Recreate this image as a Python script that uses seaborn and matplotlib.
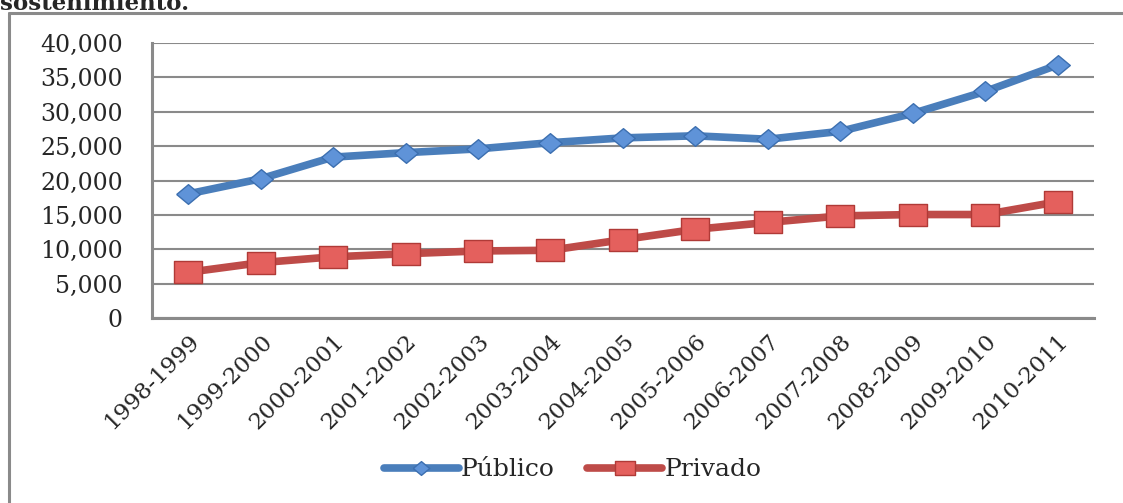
import pandas as pd
import numpy as np
import matplotlib
matplotlib.use('Agg')
import matplotlib.pyplot as plt
from matplotlib.lines import Line2D
import seaborn as sns

# datos
periodos = ['1998-1999', '1999-2000', '2000-2001', '2001-2002', '2002-2003',
            '2003-2004', '2004-2005', '2005-2006', '2006-2007', '2007-2008',
            '2008-2009', '2009-2010', '2010-2011']
publico = [18050, 20250, 23400, 24050, 24600, 25500, 26200, 26500, 26000,
           27150, 29750, 32950, 36800]
privado = [6650, 8050, 8900, 9350, 9750, 9850, 11400, 12900, 13900, 14850,
           15050, 15050, 16900]
y_ticks = [0, 5000, 10000, 15000, 20000, 25000, 30000, 35000, 40000]

df = pd.DataFrame({'periodo': periodos, 'Público': publico, 'Privado': privado})

sns.set_style('white')
plt.rcParams['font.family'] = ['DejaVu Serif']

fig = plt.figure(figsize=(11.23, 5.03), dpi=100)
ax = fig.add_axes([0.1353, 0.3678, 0.974 - 0.1353, 0.9145 - 0.3678])

gris = '#8a8a8a'

# marcadores algo más anchos que altos, como en el original
rombo = [(-1.2, 0), (0, -1), (1.2, 0), (0, 1), (-1.2, 0)]
cuadro = [(-1.3, -1), (1.3, -1), (1.3, 1), (-1.3, 1), (-1.3, -1)]

sns.lineplot(data=df, x='periodo', y='Público', ax=ax, color='#4a7ebb', lw=5.5,
             marker=rombo, markersize=17, markerfacecolor='#5f93d8',
             markeredgecolor='#3c6fb0', markeredgewidth=1.0, sort=False, zorder=3)
sns.lineplot(data=df, x='periodo', y='Privado', ax=ax, color='#be4b48', lw=5.5,
             marker=cuadro, markersize=20, markerfacecolor='#e4605d',
             markeredgecolor='#b03a37', markeredgewidth=1.0, sort=False, zorder=3)

n = len(periodos)
ax.set_xlim(-0.5, n - 0.5)
ax.set_ylim(0, 40000)
ax.set_yticks(y_ticks)
ax.set_yticklabels([f'{v:,}' for v in y_ticks], fontsize=17)
ax.set_xticks(range(n))
ax.set_xticklabels(periodos, rotation=45, ha='right', rotation_mode='anchor',
                   fontsize=16.5)
ax.set_xticks(np.arange(n + 1) - 0.5, minor=True)
ax.tick_params(axis='x', which='major', length=0, pad=9)
ax.tick_params(axis='x', which='minor', length=5, width=1.5, color=gris,
               direction='out')
ax.tick_params(axis='y', length=7, width=1.5, color=gris, direction='out', pad=14)
ax.set_xlabel('')
ax.set_ylabel('')

ax.grid(axis='y', color=gris, lw=1.5)
ax.set_axisbelow(True)
for s in ['top', 'right']:
    ax.spines[s].set_visible(False)
for s in ['left', 'bottom']:
    ax.spines[s].set_color(gris)
    ax.spines[s].set_linewidth(2.2)

# leyenda
fig.legend(handles=ax.lines[:2], labels=['Público', 'Privado'], loc='center',
           bbox_to_anchor=(0.51, 0.066), ncol=2, frameon=False, fontsize=18,
           handlelength=3.0, columnspacing=1.3, handletextpad=0.1,
           markerscale=0.7)

# marco del gráfico y título cortado
fig.add_artist(Line2D([9 / 1123, 1.0], [1 - 13 / 503, 1 - 13 / 503],
                      transform=fig.transFigure, color=gris, lw=2.2))
fig.add_artist(Line2D([9 / 1123, 9 / 1123], [0.0, 1 - 13 / 503],
                      transform=fig.transFigure, color=gris, lw=2.2))
fig.text(0.0, 1 - 10 / 503, 'sostenimiento.', fontsize=16.5, fontweight='bold',
         va='baseline', ha='left')

fig.savefig('out.png', dpi=100)
